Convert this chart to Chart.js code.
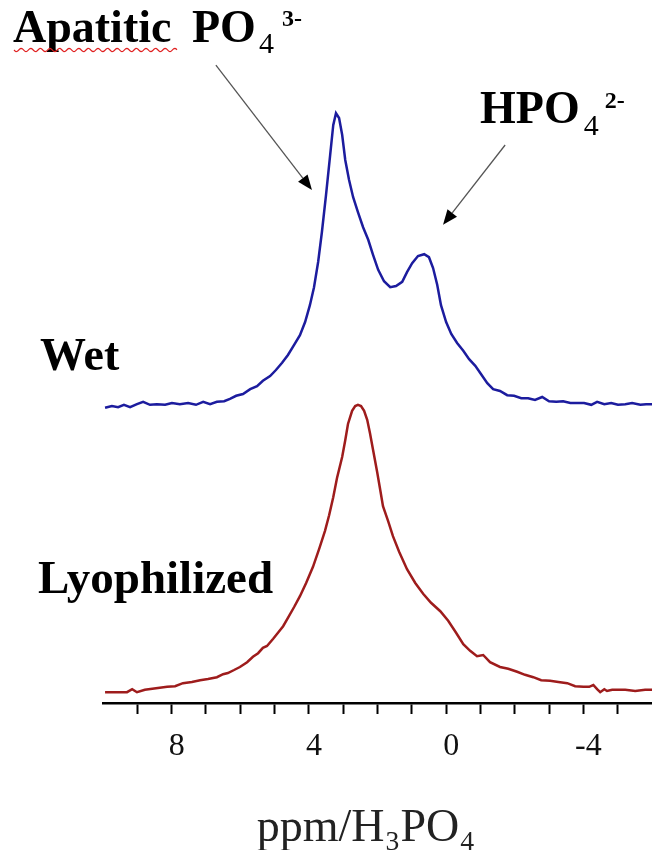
<!DOCTYPE html>
<html>
<head>
<meta charset="utf-8">
<script src="https://cdn.jsdelivr.net/npm/chart.js@4"></script>
<style>
  html, body { margin: 0; padding: 0; background: #fff; }
  #caja { position: relative; width: 652px; height: 850px; }
</style>
</head>
<body>
<div id="caja"><canvas id="espectro" width="652" height="850"></canvas></div>
<script>
// chemical shift (ppm) and stacked intensity
const wetPpm = [9.94, 9.74, 9.56, 9.39, 9.21, 9.01, 8.83, 8.63, 8.43, 8.19, 7.99, 7.76, 7.52, 7.29, 7.08, 6.88, 6.68, 6.47, 6.30, 6.12,
  5.92, 5.71, 5.51, 5.34, 5.13, 4.96, 4.78, 4.61, 4.43, 4.26, 4.11, 3.97, 3.85, 3.73, 3.62, 3.50, 3.38, 3.29, 3.21, 3.12,
  3.03, 2.94, 2.83, 2.71, 2.57, 2.42, 2.27, 2.13, 1.98, 1.81, 1.63, 1.46, 1.28, 1.14, 0.99, 0.82, 0.64, 0.50, 0.38, 0.26,
  0.15, 0.00, -0.15, -0.32, -0.50, -0.67, -0.85, -1.02, -1.20, -1.37, -1.57, -1.78, -1.98, -2.19, -2.39, -2.59, -2.80, -3.00, -3.21, -3.41,
  -3.62, -3.82, -4.02, -4.23, -4.40, -4.61, -4.81, -5.01, -5.22, -5.42, -5.66, -5.83, -6.00];
const wetIntensity = [49.2, 49.5, 49.3, 49.7, 49.3, 49.8, 50.2, 49.7, 49.8, 49.7, 50.0, 49.8, 50.0, 49.7, 50.2, 49.8, 50.2, 50.3, 50.7, 51.2,
  51.5, 52.3, 52.8, 53.7, 54.5, 55.5, 56.7, 58.0, 59.7, 61.3, 63.5, 66.3, 69.3, 73.5, 78.5, 84.7, 91.3, 96.3, 98.3, 97.5,
  94.7, 90.5, 87.2, 84.3, 81.8, 79.3, 77.2, 74.7, 72.2, 70.3, 69.3, 69.5, 70.2, 71.8, 73.3, 74.5, 74.8, 74.3, 72.5, 69.7,
  66.3, 63.5, 61.5, 60.0, 58.7, 57.3, 56.2, 54.8, 53.3, 52.3, 52.0, 51.3, 51.2, 50.8, 50.8, 50.5, 51.0, 50.3, 50.2, 50.3,
  50.0, 50.0, 50.0, 49.7, 50.2, 49.8, 50.0, 49.7, 49.8, 50.0, 49.7, 49.8, 49.8];

const lyoPpm = [9.94, 9.65, 9.30, 9.15, 9.01, 8.78, 8.40, 8.13, 7.90, 7.67, 7.41, 7.17, 6.94, 6.68, 6.50, 6.36, 6.18, 6.01, 5.80, 5.63,
  5.48, 5.34, 5.22, 5.04, 4.90, 4.75, 4.61, 4.43, 4.26, 4.08, 3.88, 3.70, 3.53, 3.41, 3.29, 3.18, 3.03, 2.94, 2.86, 2.74,
  2.65, 2.57, 2.48, 2.39, 2.30, 2.22, 2.13, 2.01, 1.92, 1.84, 1.69, 1.55, 1.37, 1.14, 0.90, 0.67, 0.44, 0.17, -0.06, -0.29,
  -0.50, -0.70, -0.90, -1.08, -1.28, -1.57, -1.81, -2.07, -2.30, -2.54, -2.77, -3.03, -3.27, -3.53, -3.76, -4.00, -4.17, -4.29, -4.40, -4.49,
  -4.61, -4.69, -4.84, -4.99, -5.22, -5.51, -5.80, -6.00];
const lyoIntensity = [1.8, 1.8, 1.8, 2.3, 1.8, 2.2, 2.5, 2.7, 2.8, 3.3, 3.5, 3.8, 4.0, 4.3, 4.8, 5.0, 5.5, 6.0, 6.8, 7.7,
  8.3, 9.2, 9.5, 10.7, 11.7, 12.8, 14.2, 16.0, 17.8, 20.0, 22.7, 25.7, 28.7, 31.3, 34.3, 37.5, 41.0, 43.8, 46.5, 48.7,
  49.5, 49.7, 49.5, 48.7, 47.2, 45.0, 42.2, 38.5, 35.5, 32.8, 30.3, 27.8, 25.2, 22.3, 20.0, 18.2, 16.7, 15.3, 13.7, 11.7,
  9.8, 8.7, 7.8, 8.0, 6.8, 6.0, 5.7, 5.2, 4.7, 4.3, 3.8, 3.7, 3.5, 3.3, 2.8, 2.7, 2.7, 3.0, 2.3, 1.8,
  2.3, 2.0, 2.2, 2.2, 2.2, 2.0, 2.2, 2.2];

const ejeMin = -6, ejeMax = 10;
const ticksConEtiqueta = [8, 4, 0, -4];

function puntos(xs, ys) {
    var res = [];
    for (var i = 0; i < xs.length; i++) res.push({x: xs[i], y: ys[i]});
    return res;
}

// flechas en coordenadas de datos (ppm, intensidad)
const flechas = [
    {de: [6.71, 106.3], a: [3.91, 85.5]},
    {de: [-1.72, 93.0], a: [0.09, 79.7]}
];

function textoQuimico(ctx, x, y, partes) {
    // partes: [texto, fuente, desplazamiento vertical, espacio extra]
    var cx = x;
    partes.forEach(p => {
        ctx.font = p[1];
        ctx.fillText(p[0], cx, y + p[2]);
        cx += ctx.measureText(p[0]).width + (p[3] || 0);
    });
}

const anotaciones = {
    id: 'anotaciones',
    afterDraw(chart) {
        const ctx = chart.ctx;
        const sx = chart.scales.x, sy = chart.scales.y;
        ctx.save();
        ctx.fillStyle = '#000';
        ctx.textBaseline = 'alphabetic';
        var bold = 'bold 46px "Liberation Serif"';
        var sub = '30px "Liberation Serif"';
        var sup = 'bold 24px "Liberation Serif"';

        ctx.font = bold;
        ctx.fillText('Apatitic', 13, 42);
        textoQuimico(ctx, 192, 42, [['PO', bold, 0, 3], ['4', sub, 11, 8], ['3-', sup, -16]]);
        textoQuimico(ctx, 480, 123, [['HPO', bold, 0, 4], ['4', sub, 12, 6], ['2-', sup, -15]]);
        ctx.font = bold;
        ctx.fillText('Wet', 40, 370);
        ctx.font = 'bold 47px "Liberation Serif"';
        ctx.fillText('Lyophilized', 38, 593);

        // subrayado ondulado rojo bajo "Apatitic"
        ctx.beginPath();
        ctx.strokeStyle = '#e02020';
        ctx.lineWidth = 1.2;
        for (var x = 14; x <= 177; x += 1) {
            var y = 50 + 1.6 * Math.sin((x - 14) / 9.6 * 2 * Math.PI);
            if (x === 14) ctx.moveTo(x, y); else ctx.lineTo(x, y);
        }
        ctx.stroke();

        // flechas
        flechas.forEach(f => {
            var x0 = sx.getPixelForValue(f.de[0]), y0 = sy.getPixelForValue(f.de[1]);
            var x1 = sx.getPixelForValue(f.a[0]), y1 = sy.getPixelForValue(f.a[1]);
            var ang = Math.atan2(y1 - y0, x1 - x0);
            var largo = 15, ancho = 6;
            ctx.beginPath();
            ctx.strokeStyle = '#555';
            ctx.lineWidth = 1.3;
            ctx.moveTo(x0, y0);
            ctx.lineTo(x1 - largo * Math.cos(ang), y1 - largo * Math.sin(ang));
            ctx.stroke();
            ctx.beginPath();
            ctx.fillStyle = '#000';
            ctx.moveTo(x1, y1);
            ctx.lineTo(x1 - largo * Math.cos(ang) + ancho * Math.sin(ang), y1 - largo * Math.sin(ang) - ancho * Math.cos(ang));
            ctx.lineTo(x1 - largo * Math.cos(ang) - ancho * Math.sin(ang), y1 - largo * Math.sin(ang) + ancho * Math.cos(ang));
            ctx.closePath();
            ctx.fill();
        });
        ctx.restore();
    }
};

var ctx = document.getElementById('espectro').getContext('2d');
var chart = new Chart(ctx, {
    type: 'line',
    data: {
        datasets: [
            {label: 'Wet', data: puntos(wetPpm, wetIntensity), borderColor: '#1c1c9e', borderWidth: 2.5, pointRadius: 0, fill: false, tension: 0},
            {label: 'Lyophilized', data: puntos(lyoPpm, lyoIntensity), borderColor: '#9e1c1c', borderWidth: 2.5, pointRadius: 0, fill: false, tension: 0}
        ]
    },
    options: {
        responsive: false,
        animation: false,
        layout: {padding: {left: 103, right: 0, top: 103, bottom: 0}},
        plugins: {legend: {display: false}, tooltip: {enabled: false}},
        scales: {
            x: {
                type: 'linear',
                reverse: true,
                min: ejeMin,
                max: ejeMax,
                afterFit: s => { s.paddingLeft = 0; s.paddingRight = 0; },
                border: {display: true, color: '#000', width: 2.5},
                grid: {
                    drawOnChartArea: false,
                    drawTicks: true,
                    tickLength: 11,
                    tickWidth: 2,
                    tickColor: c => (c.tick && (c.tick.value === ejeMax || c.tick.value === ejeMin)) ? 'rgba(0,0,0,0)' : '#000'
                },
                ticks: {
                    stepSize: 1,
                    autoSkip: false,
                    maxRotation: 0,
                    padding: 13,
                    labelOffset: 5,
                    color: '#111',
                    font: {family: '"Liberation Serif"', size: 32},
                    callback: v => ticksConEtiqueta.includes(v) ? String(v) : ''
                },
                title: {
                    display: true,
                    // dos espacios no separables al final corren el título un poco a la izquierda, como en el original
                    text: 'ppm/H\u2083PO\u2084\u00a0\u00a0',
                    color: '#222',
                    font: {family: '"Liberation Serif"', size: 46, lineHeight: 0.9},
                    padding: {top: 30.2, bottom: 0}
                }
            },
            y: {display: false, min: 0, max: 100}
        }
    },
    plugins: [anotaciones]
});
</script>
</body>
</html>
